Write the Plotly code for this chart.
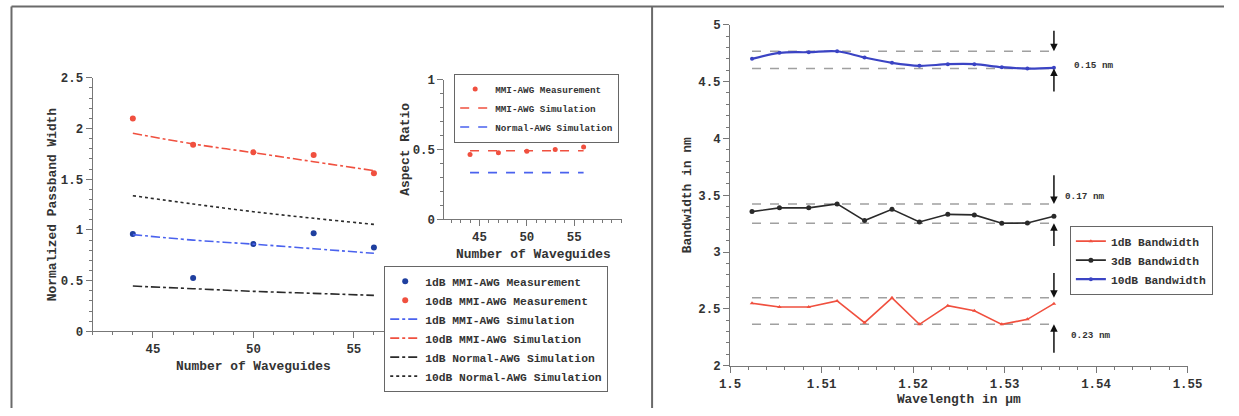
import plotly.graph_objects as go

W, H = 1239, 416

# ---------------- data: left main panel ----------------
waveguides = [44, 47, 50, 53, 56]
meas_1db_mmi = [0.96, 0.527, 0.862, 0.967, 0.826]
meas_10db_mmi = [2.10, 1.84, 1.765, 1.74, 1.56]
sim_1db_mmi = [0.954, 0.90, 0.86, 0.815, 0.77]
sim_10db_mmi = [1.953, 1.848, 1.762, 1.673, 1.585]
sim_1db_normal = [0.447, 0.421, 0.395, 0.375, 0.355]
sim_10db_normal = [1.338, 1.256, 1.18, 1.115, 1.055]
waveguide_ticks = [45, 50, 55]

# ---------------- data: inset (aspect ratio) ----------------
aspect_meas = [0.463, 0.477, 0.487, 0.499, 0.518]
aspect_sim_mmi = [0.49, 0.49, 0.49, 0.49, 0.49]
aspect_sim_normal = [0.334, 0.334, 0.334, 0.334, 0.334]

# ---------------- data: right panel ----------------
wavelength = [1.5024, 1.5054, 1.5086, 1.5117, 1.5147, 1.5177,
              1.5207, 1.5238, 1.5267, 1.5297, 1.5325, 1.5354]
bw_1db = [2.549, 2.517, 2.517, 2.57, 2.379, 2.597, 2.364, 2.528, 2.484, 2.364, 2.408, 2.546]
bw_3db = [3.356, 3.389, 3.389, 3.424, 3.277, 3.376, 3.265, 3.332, 3.327, 3.253, 3.256, 3.315]
bw_10db = [4.70, 4.753, 4.759, 4.767, 4.712, 4.665, 4.639, 4.653, 4.653, 4.627, 4.615, 4.621]
spread_labels = ["0.15 nm", "0.17 nm", "0.23 nm"]
label_x = [1.5374, 1.5364, 1.5370]
label_y = [4.64, 3.49, 2.265]
arrow_down_tail = [4.96, 3.69, 2.83]
arrow_up_tail = [4.40, 3.04, 2.10]

RED = "#f0503f"
BLUE_DOT = "#1f3f9f"
BLUE_LINE = "#4a62ee"
BLUE_R = "#3b44c4"
BLACK = "#2a2a2a"
AX = "#777777"
FONT = "Liberation Mono"

# the photographed page is slightly shrunk; place items so they land on target pixels
SX, OX = 0.9795, 10.6
SY, OY = 0.9657, 5.53
FS = 1.03  # font compensation


def px_x(p):
    return min(max((p - OX) / SX, 0.5), W) / W


def px_y(p):
    return 1 - min(max((p - OY) / SY, 0.5), H) / H


def fs(s):
    return round(s * FS, 1)


fig = go.Figure()

# main left panel traces
fig.add_trace(go.Scatter(x=waveguides, y=meas_1db_mmi, mode="markers", name="1dB MMI-AWG Measurement",
                         marker=dict(color=BLUE_DOT, size=6), xaxis="x", yaxis="y", legend="legend"))
fig.add_trace(go.Scatter(x=waveguides, y=meas_10db_mmi, mode="markers", name="10dB MMI-AWG Measurement",
                         marker=dict(color=RED, size=6), xaxis="x", yaxis="y", legend="legend"))
fig.add_trace(go.Scatter(x=waveguides, y=sim_1db_mmi, mode="lines", name="1dB MMI-AWG Simulation",
                         line=dict(color=BLUE_LINE, width=1.6, dash="dashdot", shape="spline"),
                         xaxis="x", yaxis="y", legend="legend"))
fig.add_trace(go.Scatter(x=waveguides, y=sim_10db_mmi, mode="lines", name="10dB MMI-AWG Simulation",
                         line=dict(color=RED, width=1.6, dash="dashdot", shape="spline"),
                         xaxis="x", yaxis="y", legend="legend"))
fig.add_trace(go.Scatter(x=waveguides, y=sim_1db_normal, mode="lines", name="1dB Normal-AWG Simulation",
                         line=dict(color=BLACK, width=1.6, dash="dashdot", shape="spline"),
                         xaxis="x", yaxis="y", legend="legend"))
fig.add_trace(go.Scatter(x=waveguides, y=sim_10db_normal, mode="lines", name="10dB Normal-AWG Simulation",
                         line=dict(color=BLACK, width=1.6, dash="dot", shape="spline"),
                         xaxis="x", yaxis="y", legend="legend"))

# inset traces
fig.add_trace(go.Scatter(x=waveguides, y=aspect_meas, mode="markers", name="MMI-AWG Measurement",
                         marker=dict(color=RED, size=5), xaxis="x2", yaxis="y2", legend="legend3"))
fig.add_trace(go.Scatter(x=waveguides, y=aspect_sim_mmi, mode="lines", name="MMI-AWG Simulation",
                         line=dict(color=RED, width=1.6, dash="dash"), xaxis="x2", yaxis="y2", legend="legend3"))
fig.add_trace(go.Scatter(x=waveguides, y=aspect_sim_normal, mode="lines", name="Normal-AWG Simulation",
                         line=dict(color=BLUE_LINE, width=1.6, dash="dash"), xaxis="x2", yaxis="y2", legend="legend3"))

# right panel: spread guide lines from data max / min
for series in (bw_10db, bw_3db, bw_1db):
    for val in (max(series), min(series)):
        fig.add_trace(go.Scatter(x=[wavelength[0], wavelength[-1]], y=[val, val], mode="lines",
                                 line=dict(color="#a0a0a0", width=1.5, dash="dash"), showlegend=False,
                                 hoverinfo="skip", xaxis="x3", yaxis="y3"))

fig.add_trace(go.Scatter(x=wavelength, y=bw_1db, mode="lines+markers", name="1dB Bandwidth",
                         line=dict(color=RED, width=1.6), marker=dict(symbol="triangle-up", size=4, color=RED),
                         xaxis="x3", yaxis="y3", legend="legend2"))
fig.add_trace(go.Scatter(x=wavelength, y=bw_3db, mode="lines+markers", name="3dB Bandwidth",
                         line=dict(color=BLACK, width=1.6), marker=dict(size=5, color=BLACK),
                         xaxis="x3", yaxis="y3", legend="legend2"))
fig.add_trace(go.Scatter(x=wavelength, y=bw_10db, mode="lines+markers", name="10dB Bandwidth",
                         line=dict(color=BLUE_R, width=2.2, shape="spline"), marker=dict(size=4, color=BLUE_R),
                         xaxis="x3", yaxis="y3", legend="legend2"))

annotations = []
for i, series in enumerate((bw_10db, bw_3db, bw_1db)):
    xa = wavelength[-1]
    annotations.append(dict(x=xa, y=max(series), ax=xa, ay=arrow_down_tail[i], xref="x3", yref="y3",
                            axref="x3", ayref="y3", text="", showarrow=True, arrowhead=2, arrowsize=1,
                            arrowwidth=1.5, arrowcolor="#111"))
    annotations.append(dict(x=xa, y=min(series), ax=xa, ay=arrow_up_tail[i], xref="x3", yref="y3",
                            axref="x3", ayref="y3", text="", showarrow=True, arrowhead=2, arrowsize=1,
                            arrowwidth=1.5, arrowcolor="#111"))
    annotations.append(dict(x=label_x[i], y=label_y[i], xref="x3", yref="y3", text=spread_labels[i],
                            showarrow=False, xanchor="left", yanchor="middle", font=dict(size=fs(9))))

axis_common = dict(showline=True, linecolor=AX, linewidth=1, ticks="outside", tickcolor=AX, ticklen=6,
                   showgrid=False, zeroline=False, tickfont=dict(size=fs(12)),
                   title_font=dict(size=fs(12.5)))

shapes = [
    dict(type="line", xref="paper", yref="paper", x0=px_x(7), x1=1, y0=px_y(6), y1=px_y(6),
         line=dict(color="#6a6a6a", width=2)),
    dict(type="line", xref="paper", yref="paper", x0=px_x(7), x1=px_x(7), y0=0, y1=px_y(6),
         line=dict(color="#6a6a6a", width=2)),
    dict(type="line", xref="paper", yref="paper", x0=px_x(652), x1=px_x(652), y0=0, y1=px_y(6),
         line=dict(color="#6a6a6a", width=2)),
]

legend_common = dict(bgcolor="white", bordercolor="#666", borderwidth=1, tracegroupgap=0)

fig.update_layout(
    width=W, height=H, margin=dict(l=0, r=0, t=0, b=0),
    paper_bgcolor="white", plot_bgcolor="white",
    font=dict(family=FONT, color="#333333", weight="bold"),
    showlegend=True,
    xaxis=dict(domain=[px_x(92.3), px_x(413.9)], range=[42, 58], tickvals=waveguide_ticks,
               minor=dict(dtick=1, tick0=0, ticks="outside", ticklen=3, tickcolor=AX),
               title=dict(text="Number of Waveguides", standoff=4), anchor="y", **axis_common),
    yaxis=dict(domain=[px_y(330.7), px_y(77.3)], range=[0, 2.5], dtick=0.5, tick0=0,
               minor=dict(dtick=0.1, ticks="outside", ticklen=3, tickcolor=AX),
               title=dict(text="Normalized Passband Width", standoff=1), anchor="x", **axis_common),
    xaxis2=dict(domain=[px_x(444.3), px_x(622.3)], range=[41.3, 60.1], tickvals=waveguide_ticks,
                minor=dict(dtick=1, tick0=0, ticks="outside", ticklen=3, tickcolor=AX),
                title=dict(text="Number of Waveguides", standoff=4), anchor="y2", **axis_common),
    yaxis2=dict(domain=[px_y(218.7), px_y(79)], range=[0, 1], dtick=0.5, tick0=0,
                minor=dict(dtick=0.1, ticks="outside", ticklen=3, tickcolor=AX),
                title=dict(text="Aspect Ratio", standoff=0), anchor="x2", **axis_common),
    xaxis3=dict(domain=[px_x(730), px_x(1187.7)], range=[1.5, 1.55], dtick=0.01, tick0=1.5,
                minor=dict(dtick=0.002, ticks="outside", ticklen=3, tickcolor=AX),
                title=dict(text="Wavelength in μm", standoff=1), anchor="y3", **axis_common),
    yaxis3=dict(domain=[px_y(365), px_y(24.3)], range=[2, 5], dtick=0.5, tick0=0,
                minor=dict(dtick=0.1, ticks="outside", ticklen=3, tickcolor=AX),
                title=dict(text="Bandwidth in nm", standoff=3), anchor="x3", **axis_common),
    legend=dict(x=px_x(384), y=px_y(265), xanchor="left", yanchor="top", font=dict(size=fs(11)),
                **legend_common),
    legend2=dict(x=px_x(1070), y=px_y(259.5), xanchor="left", yanchor="middle", font=dict(size=fs(11)),
                 **legend_common),
    legend3=dict(x=px_x(454), y=px_y(142), xanchor="left", yanchor="bottom", font=dict(size=fs(9)),
                 **legend_common),
    shapes=shapes,
    annotations=annotations,
)

fig.write_html("out.html")
